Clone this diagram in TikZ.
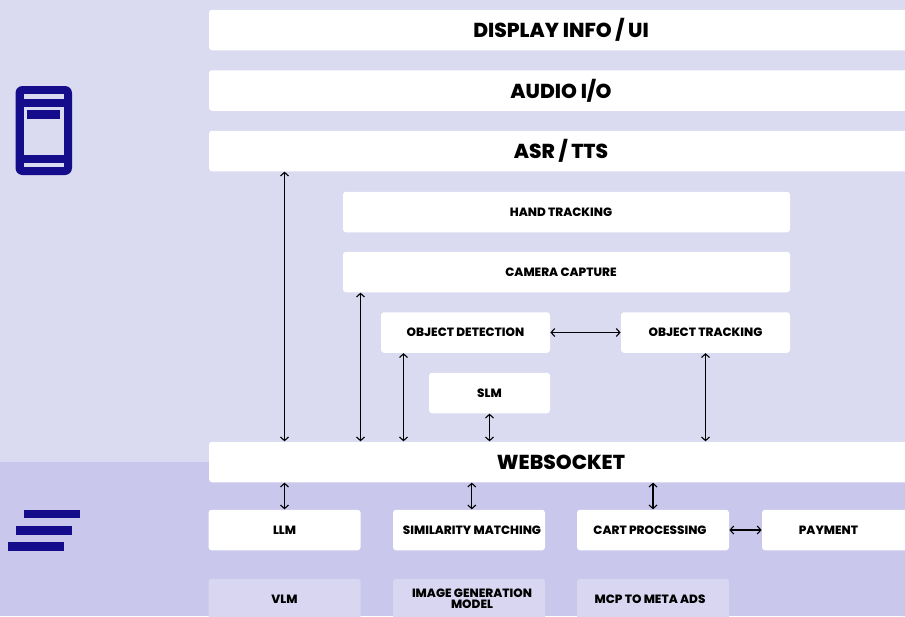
\documentclass[tikz,border=0pt]{standalone}
\usepackage{fontspec}
\setmainfont{Poppins}[BoldFont=* ExtraBold]
\usetikzlibrary{arrows.meta}
\definecolor{bglight}{HTML}{DADAF1}
\definecolor{bgdark}{HTML}{C9C7EC}
\definecolor{softfill}{HTML}{D8D6F1}
\definecolor{ink}{HTML}{140C8B}
\tikzset{
  x=1pt,y=-1pt,
  box/.style={fill=white,rounded corners=3pt,inner sep=0pt,minimum height=40.5pt,font=\bfseries\fontsize{12}{10.7}\selectfont,text=black,align=center},
  bigbox/.style={box,font=\bfseries\fontsize{20.2}{20}\selectfont},
  softbox/.style={box,fill=softfill,minimum width=152pt},
  wide/.style={minimum width=704pt},
  conn/.style={{Straight Barb[length=3.6pt,width=8pt]}-{Straight Barb[length=3.6pt,width=8pt]},line width=1.1pt,black,shorten <=0.2pt,shorten >=0.2pt},
  icon/.style={fill=ink,draw=none}
}
\begin{document}
\begin{tikzpicture}
\useasboundingbox (0,0) rectangle (905,616);
\clip (0,0) rectangle (905,616);
\fill[bglight] (0,0) rectangle (905,462);
\fill[bgdark] (0,462) rectangle (905,616);
% phone icon
\fill[icon,rounded corners=7pt] (15.5,86) rectangle (72,175);
\fill[bglight] (23.5,94) rectangle (64,99);
\fill[bglight] (23.5,106.5) rectangle (64,155);
\fill[bglight] (23.5,163) rectangle (64,167);
\fill[icon] (27,110) rectangle (60,119);
% stack icon
\fill[icon] (23.5,510) rectangle (80,518);
\fill[icon] (15.5,526) rectangle (72,534.5);
\fill[icon] (7.5,542) rectangle (64,550.5);
% boxes
\node[bigbox,wide] (display) at (561,30) {DISPLAY INFO / UI};
\node[bigbox,wide] (audio) at (561,90.5) {AUDIO I/O};
\node[bigbox,wide] (asr) at (561,151) {ASR / TTS};
\node[box,minimum width=447pt] (hand) at (566.5,212) {HAND TRACKING\hspace*{11pt}};
\node[box,minimum width=447pt] (camera) at (566.5,272) {CAMERA CAPTURE\hspace*{11pt}};
\node[box,minimum width=169pt] (detect) at (465.5,332.5) {OBJECT DETECTION};
\node[box,minimum width=169pt] (track) at (705.5,332.5) {OBJECT TRACKING};
\node[box,minimum width=121pt] (slm) at (489.5,393) {SLM};
\node[bigbox,wide] (ws) at (561,462) {WEBSOCKET};
\node[box,minimum width=152pt] (llm) at (284.5,530) {LLM};
\node[box,minimum width=152pt] (sim) at (469,530) {\hspace*{6pt}SIMILARITY MATCHING};
\node[box,minimum width=152pt] (cart) at (653,530) {CART PROCESSING\hspace*{6pt}};
\node[box,minimum width=152pt] (pay) at (838,530) {PAYMENT\hspace*{19pt}};
\node[softbox] (vlm) at (284.5,599) {VLM};
\node[softbox] (img) at (469,599) {\hspace*{6pt}IMAGE GENERATION\\\hspace*{6pt}MODEL};
\node[softbox] (mcp) at (653,599) {MCP TO META ADS\hspace*{6pt}};
% connector columns
\coordinate (xa) at (284.5,0);
\coordinate (xb) at (360.5,0);
\coordinate (xc) at (403.5,0);
\coordinate (xd) at (489.5,0);
\coordinate (xe) at (705.5,0);
\coordinate (xf) at (471.8,0);
\coordinate (xg) at (653,0);
\draw[conn] (xa |- asr.south) -- (xa |- ws.north);
\draw[conn] (xb |- camera.south) -- (xb |- ws.north);
\draw[conn] (xc |- detect.south) -- (xc |- ws.north);
\draw[conn] (xd |- slm.south) -- (xd |- ws.north);
\draw[conn] (xe |- track.south) -- (xe |- ws.north);
\draw[conn] (detect.east) -- (track.west);
\draw[conn] (xa |- ws.south) -- (xa |- llm.north);
\draw[conn] (xf |- ws.south) -- (xf |- sim.north);
\draw[conn] (xg |- ws.south) -- (xg |- cart.north);
\draw[conn] (cart.east) -- (pay.west);
\end{tikzpicture}
\end{document}
